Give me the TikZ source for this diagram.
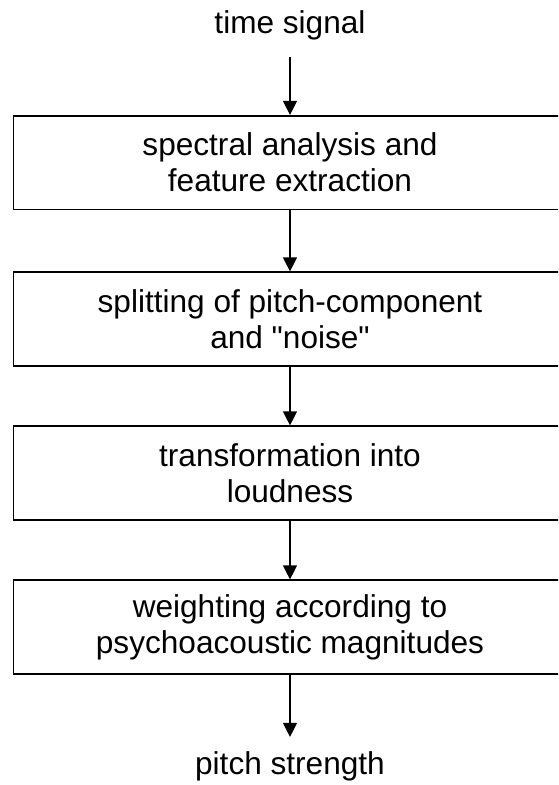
\documentclass[tikz,border=0pt]{standalone}
\usepackage{fontspec}
\setmainfont{Liberation Sans}
\usetikzlibrary{arrows.meta}

\begin{document}
\begin{tikzpicture}[x=1pt,y=-1pt,font=\fontsize{31.6}{36}\selectfont,
	stage/.style={draw, line width=1.6pt, minimum width=553.4pt, minimum height=93.6pt, align=center, inner sep=0pt},
	textlabel/.style={inner sep=0pt, anchor=base},
	flow/.style={line width=1.3pt, -{Triangle[length=14pt,width=14pt]}}]

	\useasboundingbox (0,0) rectangle (558,785);
	\clip (0,0) rectangle (558,785);

	% Labels
	\node[textlabel] (signal) at (290,33) {time signal};
	\node[textlabel] (strength) at (290,774) {pitch strength};

	% Processing stages
	\node[stage] (spectral) at (290,162.5) {spectral analysis and\\feature extraction};
	\node[stage] (splitting) at (290,319) {splitting of pitch-component\\and \textquotedbl noise\textquotedbl};
	\node[stage] (loudness) at (290,473) {transformation into\\loudness};
	\node[stage] (weighting) at (290,627) {weighting according to\\psychoacoustic magnitudes};

	% Arrows
	\draw[flow, shorten <=17.4pt] (signal) -- (spectral);
	\draw[flow] (spectral) -- (splitting);
	\draw[flow] (splitting) -- (loudness);
	\draw[flow] (loudness) -- (weighting);
	\draw[flow, shorten >=14pt] (weighting) -- (strength);

\end{tikzpicture}
\end{document}
